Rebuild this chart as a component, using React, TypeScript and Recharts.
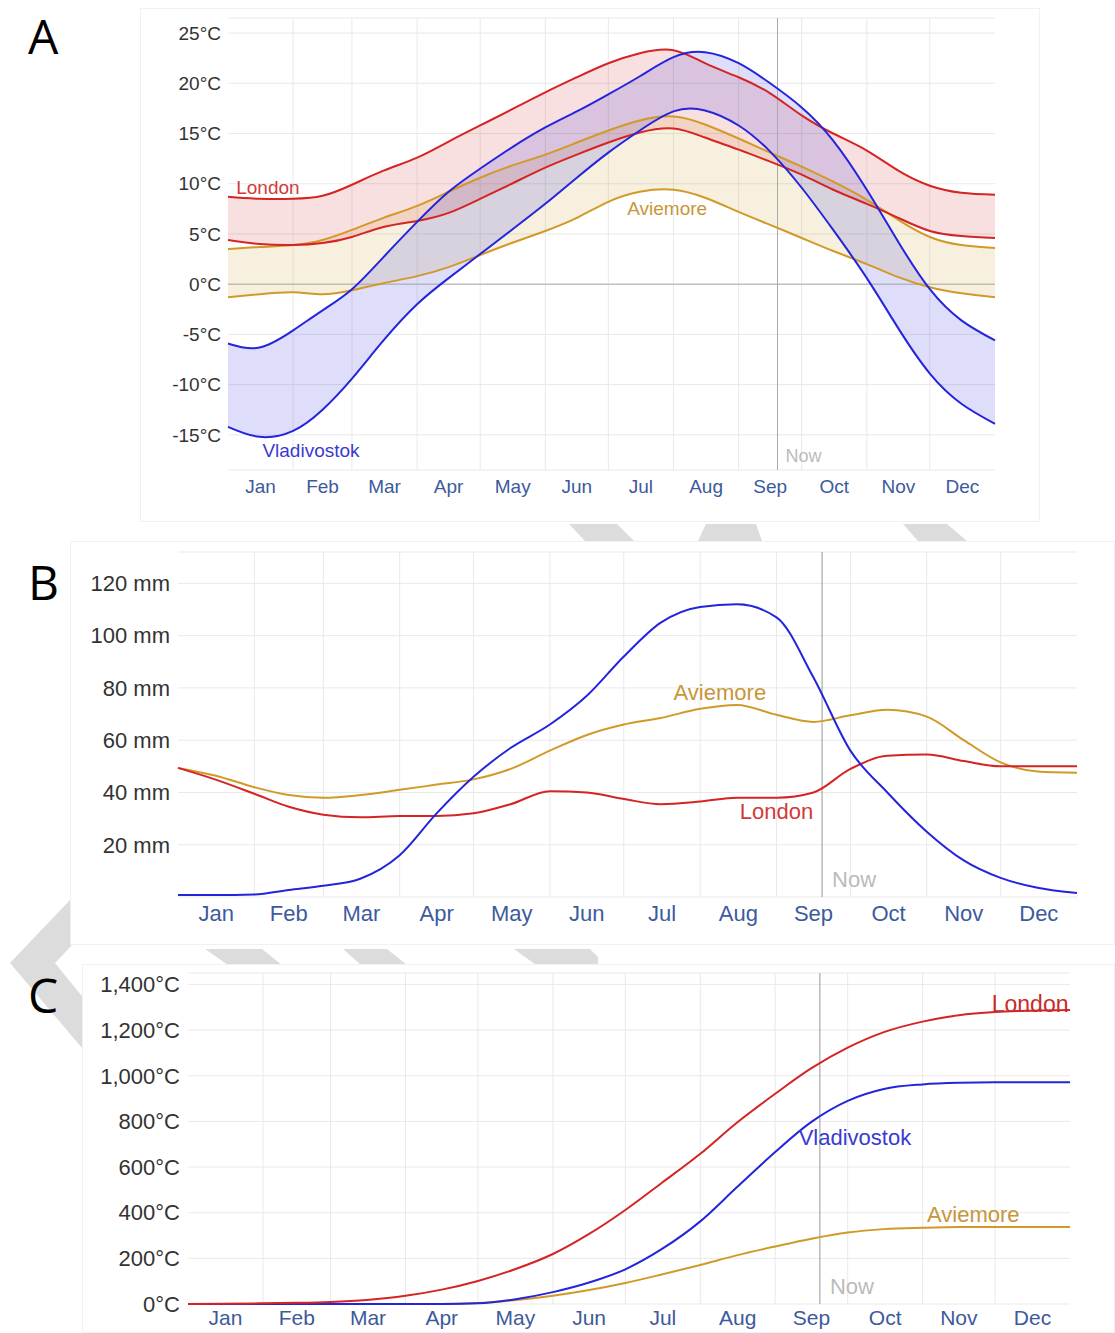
import React from "react";
import {
  ComposedChart, LineChart, Line, Area, XAxis, YAxis,
  CartesianGrid, ReferenceLine, ReferenceDot,
} from "recharts";

const MONTHS = ["Jan", "Feb", "Mar", "Apr", "May", "Jun", "Jul", "Aug", "Sep", "Oct", "Nov", "Dec"];
const MONTH_MIDS = [15.5, 45, 74.5, 105, 135.5, 166, 196.5, 227.5, 258, 288.5, 319, 349.5];
const MONTH_STARTS = [31, 59, 90, 120, 151, 181, 212, 243, 273, 304, 334];
const NOW_DAY = 261.5;

// day of year for every sample below
const DAYS = [0, 15, 31, 45, 59, 74, 90, 105, 120, 135, 151, 166, 181, 196, 212, 227, 243, 258, 273, 288, 304, 319, 334, 349, 365];

// A: daily high / low temperature (°C)
const londonHigh = [8.7, 8.5, 8.5, 8.8, 9.9, 11.3, 12.6, 14.2, 15.8, 17.4, 19.1, 20.6, 22.0, 23.0, 23.3, 22.0, 20.6, 19.0, 16.8, 15.0, 13.3, 11.3, 9.8, 9.1, 8.9];
const londonLow = [4.4, 4.0, 3.9, 4.1, 4.7, 5.7, 6.3, 7.1, 8.5, 10.0, 11.6, 12.9, 14.1, 15.1, 15.5, 14.6, 13.4, 12.2, 10.9, 9.4, 8.0, 6.6, 5.3, 4.8, 4.6];
const aviemoreHigh = [3.5, 3.7, 3.9, 4.4, 5.4, 6.6, 7.8, 9.2, 10.6, 11.8, 12.9, 14.1, 15.3, 16.3, 16.7, 15.9, 14.5, 13.1, 11.7, 10.2, 8.4, 6.4, 4.7, 3.9, 3.6];
const aviemoreLow = [-1.3, -1.0, -0.8, -1.0, -0.6, 0.1, 0.8, 1.7, 2.9, 4.1, 5.3, 6.6, 8.2, 9.2, 9.4, 8.6, 7.2, 5.9, 4.6, 3.3, 2.0, 0.7, -0.3, -0.9, -1.3];
const vladHigh = [-5.9, -6.3, -4.6, -2.6, -0.5, 2.7, 6.2, 9.2, 11.5, 13.6, 15.6, 17.2, 18.9, 20.7, 22.6, 23.1, 22.0, 20.0, 17.6, 14.3, 9.4, 4.2, -0.5, -3.6, -5.6];
const vladLow = [-14.2, -15.2, -14.6, -12.5, -9.4, -5.6, -2.0, 0.6, 3.0, 5.4, 8.0, 10.6, 13.1, 15.3, 17.2, 17.3, 15.8, 13.2, 9.6, 5.4, 0.6, -4.4, -8.9, -11.9, -13.9];

// B: precipitation (mm)
const londonRain = [49.4, 45, 39.5, 34.5, 31.5, 30.5, 31, 31, 32, 35.5, 40.5, 40, 37.5, 35.5, 36.5, 38, 38, 40, 49, 54, 54.5, 52, 50, 50, 50];
const aviemoreRain = [49.4, 46.5, 42, 39, 38, 39, 41, 43, 45, 49, 56, 62, 66, 68.5, 72, 73.5, 69.7, 67, 69.5, 71.6, 69, 60, 51.5, 48, 47.5];
const vladRain = [0.8, 0.8, 1.0, 2.7, 4.3, 7.0, 16, 32, 46, 57, 66, 77, 92, 105, 111, 112, 107, 84, 56, 40, 25, 14, 7.3, 3.5, 1.5];

// C: accumulated growing degree days (°C)
const londonGdd = [0, 1, 3, 5, 9, 18, 36, 63, 101, 151, 219, 307, 412, 530, 658, 793, 921, 1033, 1123, 1191, 1237, 1265, 1279, 1285, 1288];
const aviemoreGdd = [0, 0, 0, 0, 0, 0, 0, 0, 4, 16, 36, 61, 92, 129, 171, 213, 252, 286, 313, 328, 334, 337, 337, 337, 337];
const vladGdd = [0, 0, 0, 0, 0, 0, 0, 0, 3, 20, 52, 94, 152, 240, 362, 510, 666, 798, 890, 942, 962, 969, 971, 971, 971];

const TEMP_TICKS = [-15, -10, -5, 0, 5, 10, 15, 20, 25];
const RAIN_TICKS = [20, 40, 60, 80, 100, 120];
const GDD_TICKS = [0, 200, 400, 600, 800, 1000, 1200, 1400];

const RED = "#d42424";
const GOLD = "#d19a28";
const BLUE = "#2424dc";
const RED_TEXT = "#d03a3a";
const GOLD_TEXT = "#c9953a";
const BLUE_TEXT = "#3a3ad0";
const MONTH_COLOR = "#3d5a9c";
const FONT = "'Liberation Sans', Arial, sans-serif";
const GRID = "#e9e9e9";

const monthName = (v: number) => MONTHS[MONTH_MIDS.indexOf(v)] ?? "";

// vertical grid lines at the month boundaries, placed through the x scale
const monthGrid = ({ xAxis, offset }: any) => {
  const s = xAxis?.scale;
  if (typeof s === "function") return MONTH_STARTS.map((d) => s(d));
  if (s && typeof s.map === "function") return MONTH_STARTS.map((d) => s.map(d));
  return MONTH_STARTS.map((d) => offset.left + (d / 365) * offset.width);
};

function TempChart() {
  const rows = DAYS.map((day, i) => ({
    day,
    london: [londonLow[i], londonHigh[i]],
    aviemore: [aviemoreLow[i], aviemoreHigh[i]],
    vlad: [vladLow[i], vladHigh[i]],
    londonHigh: londonHigh[i],
    londonLow: londonLow[i],
    aviemoreHigh: aviemoreHigh[i],
    aviemoreLow: aviemoreLow[i],
    vladHigh: vladHigh[i],
    vladLow: vladLow[i],
  }));
  const line = (key: string, color: string) => (
    <Line key={key} dataKey={key} type="natural" stroke={color} strokeWidth={2}
      dot={false} activeDot={false} isAnimationActive={false} />
  );
  return (
    <ComposedChart width={1115} height={520} data={rows}
      margin={{ top: 18, right: 120, bottom: 20, left: 148 }} style={{ fontFamily: FONT }}>
      <CartesianGrid stroke={GRID} verticalCoordinatesGenerator={monthGrid} />
      <XAxis dataKey="day" type="number" domain={[0, 365]} ticks={MONTH_MIDS} interval={0}
        tickFormatter={monthName} axisLine={false} tickLine={false} tickSize={0} tickMargin={10}
        height={30} tick={{ fill: MONTH_COLOR, fontSize: 19 }} />
      <YAxis type="number" domain={[-18.5, 26.5]} ticks={TEMP_TICKS} interval={0}
        tickFormatter={(v) => `${v}°C`} axisLine={false} tickLine={false} tickSize={0} tickMargin={7}
        width={80} tick={{ fill: "#333", fontSize: 19 }} />
      <ReferenceLine y={0} stroke="#aaa" />
      <ReferenceLine x={NOW_DAY} stroke="#aaa"
        label={{ value: "Now", position: "insideBottomLeft", fill: "#bbb", fontSize: 18, offset: 8 }} />
      <Area dataKey="aviemore" type="natural" fill={GOLD} fillOpacity={0.15} stroke="none" isAnimationActive={false} />
      <Area dataKey="london" type="natural" fill={RED} fillOpacity={0.14} stroke="none" isAnimationActive={false} />
      <Area dataKey="vlad" type="natural" fill={BLUE} fillOpacity={0.15} stroke="none" isAnimationActive={false} />
      {line("aviemoreHigh", GOLD)}
      {line("aviemoreLow", GOLD)}
      {line("londonHigh", RED)}
      {line("londonLow", RED)}
      {line("vladHigh", BLUE)}
      {line("vladLow", BLUE)}
      <ReferenceDot x={19} y={9.65} r={0} stroke="none"
        label={{ value: "London", position: "center", fill: RED_TEXT, fontSize: 19 }} />
      <ReferenceDot x={209} y={7.6} r={0} stroke="none"
        label={{ value: "Aviemore", position: "center", fill: GOLD_TEXT, fontSize: 19 }} />
      <ReferenceDot x={39.5} y={-16.5} r={0} stroke="none"
        label={{ value: "Vladivostok", position: "center", fill: BLUE_TEXT, fontSize: 19 }} />
    </ComposedChart>
  );
}

function RainChart() {
  const rows = DAYS.map((day, i) => ({
    day, london: londonRain[i], aviemore: aviemoreRain[i], vlad: vladRain[i],
  }));
  return (
    <LineChart width={1115} height={400} data={rows}
      margin={{ top: 12, right: 38, bottom: 13, left: 78 }} style={{ fontFamily: FONT }}>
      <CartesianGrid stroke={GRID} verticalCoordinatesGenerator={monthGrid} />
      <XAxis dataKey="day" type="number" domain={[0, 365]} ticks={MONTH_MIDS} interval={0}
        tickFormatter={monthName} axisLine={false} tickLine={false} tickSize={0} tickMargin={8}
        height={30} tick={{ fill: MONTH_COLOR, fontSize: 22 }} />
      <YAxis type="number" domain={[0, 132]} ticks={RAIN_TICKS} interval={0}
        tickFormatter={(v) => `${v} mm`} axisLine={false} tickLine={false} tickSize={0} tickMargin={8}
        width={100} tick={{ fill: "#333", fontSize: 22 }} />
      <ReferenceLine x={NOW_DAY} stroke="#999"
        label={{ value: "Now", position: "insideBottomLeft", fill: "#bbb", fontSize: 22, offset: 10 }} />
      <Line dataKey="aviemore" type="monotone" stroke={GOLD} strokeWidth={2} dot={false} isAnimationActive={false} />
      <Line dataKey="london" type="monotone" stroke={RED} strokeWidth={2} dot={false} isAnimationActive={false} />
      <Line dataKey="vlad" type="monotone" stroke={BLUE} strokeWidth={2} dot={false} isAnimationActive={false} />
      <ReferenceDot x={220} y={78.5} r={0} stroke="none"
        label={{ value: "Aviemore", position: "center", fill: GOLD_TEXT, fontSize: 22 }} />
      <ReferenceDot x={243} y={33} r={0} stroke="none"
        label={{ value: "London", position: "center", fill: RED_TEXT, fontSize: 22 }} />
    </LineChart>
  );
}

function GddChart() {
  const rows = DAYS.map((day, i) => ({
    day, london: londonGdd[i], aviemore: aviemoreGdd[i], vlad: vladGdd[i],
  }));
  return (
    <LineChart width={1115} height={373} data={rows}
      margin={{ top: 13, right: 45, bottom: 0, left: 78 }} style={{ fontFamily: FONT }}>
      <CartesianGrid stroke={GRID} verticalCoordinatesGenerator={monthGrid} />
      <XAxis dataKey="day" type="number" domain={[0, 365]} ticks={MONTH_MIDS} interval={0}
        tickFormatter={monthName} axisLine={false} tickLine={false} tickSize={0} tickMargin={6}
        height={29} tick={{ fill: MONTH_COLOR, fontSize: 21 }} />
      <YAxis type="number" domain={[0, 1450]} ticks={GDD_TICKS} interval={0}
        tickFormatter={(v) => `${v.toLocaleString("en-US")}°C`} axisLine={false} tickLine={false}
        tickSize={0} tickMargin={8} width={110} tick={{ fill: "#333", fontSize: 22 }} />
      <ReferenceLine x={NOW_DAY} stroke="#999"
        label={{ value: "Now", position: "insideBottomLeft", fill: "#bbb", fontSize: 22, offset: 10 }} />
      <Line dataKey="aviemore" type="monotone" stroke={GOLD} strokeWidth={2} dot={false} isAnimationActive={false} />
      <Line dataKey="vlad" type="monotone" stroke={BLUE} strokeWidth={2} dot={false} isAnimationActive={false} />
      <Line dataKey="london" type="monotone" stroke={RED} strokeWidth={2} dot={false} isAnimationActive={false} />
      <ReferenceDot x={348.5} y={1317} r={0} stroke="none"
        label={{ value: "London", position: "center", fill: "#c82a2a", fontSize: 23 }} />
      <ReferenceDot x={276} y={730} r={0} stroke="none"
        label={{ value: "Vladivostok", position: "center", fill: BLUE_TEXT, fontSize: 22 }} />
      <ReferenceDot x={325} y={394} r={0} stroke="none"
        label={{ value: "Aviemore", position: "center", fill: GOLD_TEXT, fontSize: 22 }} />
    </LineChart>
  );
}

// faint grey arrow shapes behind the panels
function Backdrop() {
  const shade = "#dcdcdc";
  return (
    <svg width={1115} height={1333} style={{ position: "absolute", left: 0, top: 0 }}>
      <polygon points="10,963 70,900 115,900 55,963 124,1048 82,1048" fill={shade} />
      <polygon points="569,524 617,524 634,541 585,541" fill={shade} />
      <polygon points="706,524 756,524 762,541 698,541" fill={shade} />
      <polygon points="903,524 947,524 967,541 918,541" fill={shade} />
      <polygon points="205,949 262,949 282,965 228,965" fill={shade} />
      <polygon points="343,949 387,949 407,965 361,965" fill={shade} />
      <polygon points="514,949 590,949 598,957 598,965 536,965" fill={shade} />
    </svg>
  );
}

const box = (left: number, top: number, width: number, height: number) => ({
  position: "absolute" as const, left, top, width, height,
  background: "#fff", border: "1px solid #f1f1f1", boxSizing: "border-box" as const,
});

const letter = (top: number) => ({
  position: "absolute" as const, left: 28, top, fontSize: 48, lineHeight: "48px",
  fontFamily: "'Open Sans', 'Noto Sans', sans-serif", color: "#000",
});

export default function App() {
  return (
    <div style={{ position: "absolute", left: 0, top: 0, width: 1115, height: 1333, overflow: "hidden", background: "#fff" }}>
      <Backdrop />
      <div style={box(140, 8, 900, 514)} />
      <div style={box(70, 541, 1045, 404)} />
      <div style={box(82, 964, 1033, 369)} />
      <div style={{ position: "absolute", left: 0, top: 0 }}><TempChart /></div>
      <div style={{ position: "absolute", left: 0, top: 540 }}><RainChart /></div>
      <div style={{ position: "absolute", left: 0, top: 960 }}><GddChart /></div>
      <div style={letter(12)}>A</div>
      <div style={letter(558)}>B</div>
      <div style={letter(971)}>C</div>
    </div>
  );
}
